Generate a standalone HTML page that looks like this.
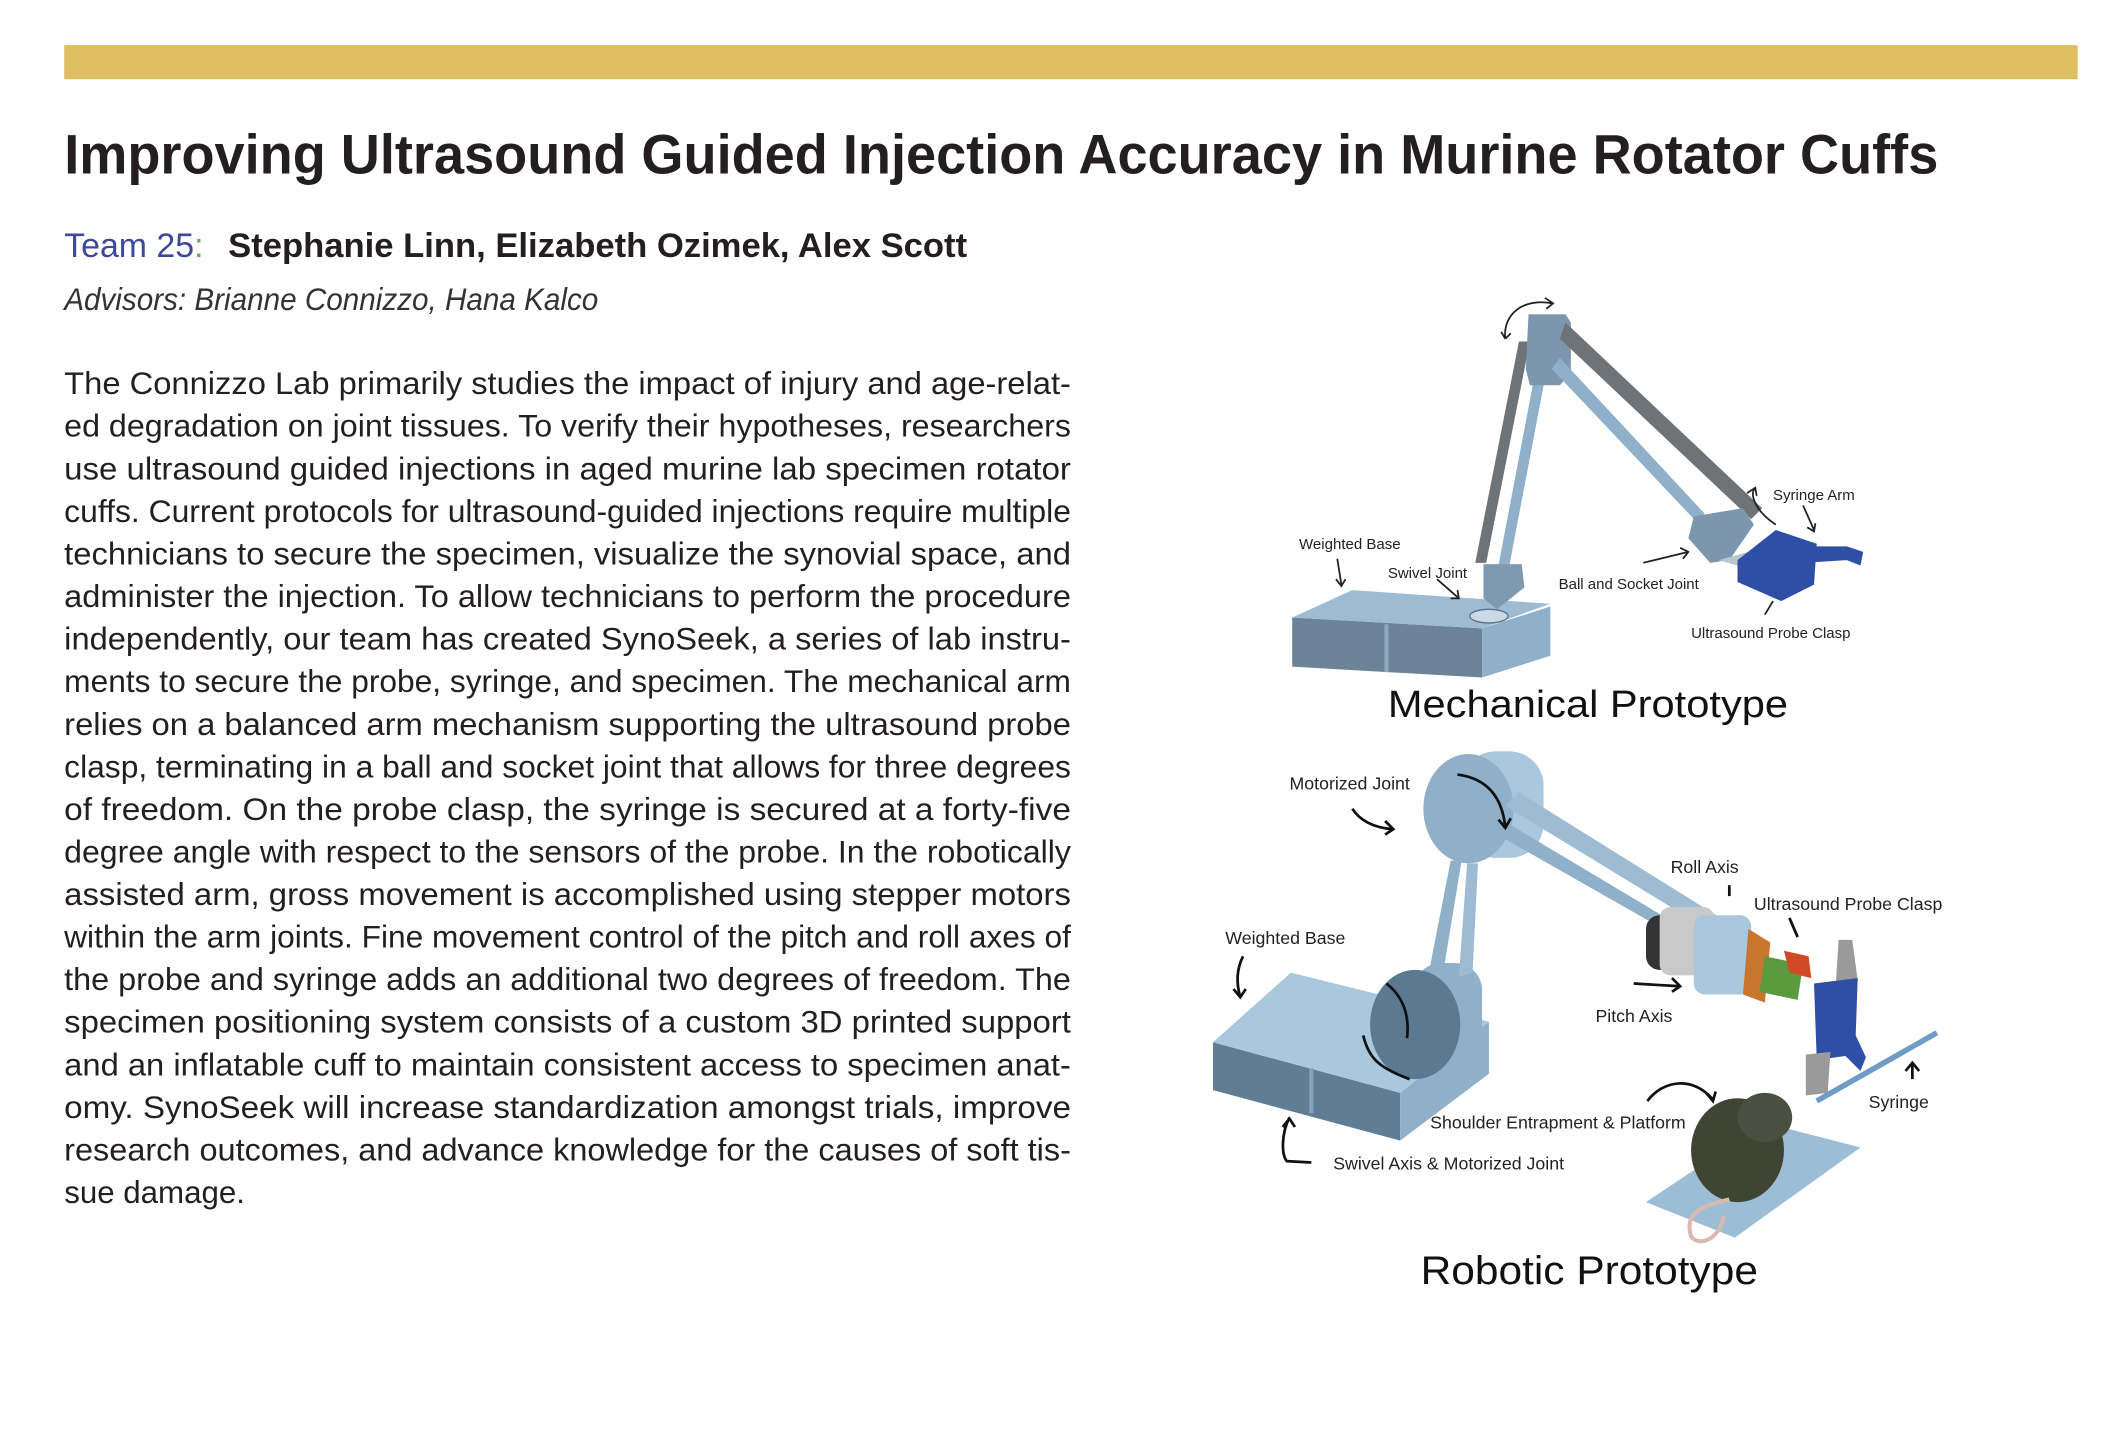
<!DOCTYPE html>
<html><head><meta charset="utf-8"><style>
html,body{margin:0;padding:0;background:#fff;}
svg{display:block;}
</style></head><body>
<svg width="2120" height="1442" viewBox="0 0 1552 1055.6" xmlns="http://www.w3.org/2000/svg" font-family="Liberation Sans, sans-serif">
<rect x="0" y="0" width="1552" height="1056" fill="#fff"/>
<rect x="47" y="33" width="1474" height="25" fill="#dfbe62"/>
<text x="47" y="127" font-size="41" font-weight="bold" fill="#231f20" textLength="1372" lengthAdjust="spacingAndGlyphs">Improving Ultrasound Guided Injection Accuracy in Murine Rotator Cuffs</text>
<text x="47" y="188" font-size="25" fill="#3d4a9c" textLength="102" lengthAdjust="spacingAndGlyphs">Team 25<tspan fill="#6aa84f">:</tspan></text>
<text x="167" y="188" font-size="25" font-weight="bold" fill="#231f20" textLength="541" lengthAdjust="spacingAndGlyphs">Stephanie Linn, Elizabeth Ozimek, Alex Scott</text>
<text x="47" y="227" font-size="23" font-style="italic" fill="#333" textLength="391" lengthAdjust="spacingAndGlyphs">Advisors: Brianne Connizzo, Hana Kalco</text>
<g font-size="22.9" fill="#231f20">
<text x="47" y="288.5" textLength="737" lengthAdjust="spacingAndGlyphs">The Connizzo Lab primarily studies the impact of injury and age-relat-</text>
<text x="47" y="319.7" textLength="737" lengthAdjust="spacingAndGlyphs">ed degradation on joint tissues. To verify their hypotheses, researchers</text>
<text x="47" y="350.9" textLength="737" lengthAdjust="spacingAndGlyphs">use ultrasound guided injections in aged murine lab specimen rotator</text>
<text x="47" y="382.0" textLength="737" lengthAdjust="spacingAndGlyphs">cuffs. Current protocols for ultrasound-guided injections require multiple</text>
<text x="47" y="413.2" textLength="737" lengthAdjust="spacingAndGlyphs">technicians to secure the specimen, visualize the synovial space, and</text>
<text x="47" y="444.4" textLength="737" lengthAdjust="spacingAndGlyphs">administer the injection. To allow technicians to perform the procedure</text>
<text x="47" y="475.5" textLength="737" lengthAdjust="spacingAndGlyphs">independently, our team has created SynoSeek, a series of lab instru-</text>
<text x="47" y="506.7" textLength="737" lengthAdjust="spacingAndGlyphs">ments to secure the probe, syringe, and specimen. The mechanical arm</text>
<text x="47" y="537.9" textLength="737" lengthAdjust="spacingAndGlyphs">relies on a balanced arm mechanism supporting the ultrasound probe</text>
<text x="47" y="569.0" textLength="737" lengthAdjust="spacingAndGlyphs">clasp, terminating in a ball and socket joint that allows for three degrees</text>
<text x="47" y="600.2" textLength="737" lengthAdjust="spacingAndGlyphs">of freedom. On the probe clasp, the syringe is secured at a forty-five</text>
<text x="47" y="631.4" textLength="737" lengthAdjust="spacingAndGlyphs">degree angle with respect to the sensors of the probe. In the robotically</text>
<text x="47" y="662.5" textLength="737" lengthAdjust="spacingAndGlyphs">assisted arm, gross movement is accomplished using stepper motors</text>
<text x="47" y="693.7" textLength="737" lengthAdjust="spacingAndGlyphs">within the arm joints. Fine movement control of the pitch and roll axes of</text>
<text x="47" y="724.9" textLength="737" lengthAdjust="spacingAndGlyphs">the probe and syringe adds an additional two degrees of freedom. The</text>
<text x="47" y="756.0" textLength="737" lengthAdjust="spacingAndGlyphs">specimen positioning system consists of a custom 3D printed support</text>
<text x="47" y="787.2" textLength="737" lengthAdjust="spacingAndGlyphs">and an inflatable cuff to maintain consistent access to specimen anat-</text>
<text x="47" y="818.4" textLength="737" lengthAdjust="spacingAndGlyphs">omy. SynoSeek will increase standardization amongst trials, improve</text>
<text x="47" y="849.5" textLength="737" lengthAdjust="spacingAndGlyphs">research outcomes, and advance knowledge for the causes of soft tis-</text>
<text x="47" y="880.7">sue damage.</text>
</g>

<!-- Mechanical prototype -->
<g>
<polygon points="946,452 946,488 1085,496 1085,460" fill="#6c8398"/>
<polygon points="1085,460 1085,496 1135,480 1135,444" fill="#8fb0c8"/>
<polygon points="946,452 990,432 1135,442 1085,460" fill="#9dbcd3"/>
<line x1="1015" y1="457" x2="1015" y2="492" stroke="#8fa9bd" stroke-width="3"/>
<ellipse cx="1090" cy="451" rx="14" ry="5" fill="#c9d9e6" stroke="#5b7185"/>
<polygon points="1080,412 1112,250 1120,250 1088,412" fill="#6e7378"/>
<polygon points="1092,440 1100,440 1132,272 1124,272" fill="#8fb0c8"/>
<polygon points="1086,413 1114,413 1116,430 1096,446 1086,438" fill="#7f9ab0"/>
<polygon points="1119,230 1146,230 1150,236 1150,272 1142,282 1120,282 1117,270" fill="#7c97ad"/>
<polygon points="1146,236 1290,372 1282,380 1142,248" fill="#6e7378"/>
<polygon points="1142,262 1248,376 1242,382 1136,270" fill="#8fb0c8"/>
<polygon points="1240,378 1276,372 1284,384 1266,410 1252,412 1236,394" fill="#7c97ad"/>
<polygon points="1258,410 1280,404 1272,414" fill="#b8c4ce"/>
<polygon points="1272,410 1300,388 1330,398 1328,428 1304,440 1272,426" fill="#2f4ea6"/>
<polygon points="1318,400 1352,400 1364,404 1362,414 1352,410 1320,412" fill="#2f4ea6"/>
</g>
<g fill="none" stroke="#222" stroke-width="1.3">
<path d="M1102,248 C1100,230 1115,218 1136,222 M1131,218 l6,4 -5,4 M1102,248 l-3,-5 M1102,248 l4,-4"/>
<path d="M979,409 L982,428 M978,424 l4,5 3,-5"/>
<path d="M1052,424 L1068,438 M1062,438 l6,0 -1,-6"/>
<path d="M1203,412 L1236,404 M1230,401 l6,3 -4,5"/>
<path d="M1285,357 C1280,362 1286,375 1300,384 M1279,361 l6,-4 1,6"/>
<path d="M1320,370 L1328,388 M1323,386 l5,3 1,-6"/>
<path d="M1292,450 L1298,440"/>
</g>
<g font-size="11" fill="#222">
<text x="951" y="402">Weighted Base</text>
<text x="1016" y="423">Swivel Joint</text>
<text x="1141" y="431">Ball and Socket Joint</text>
<text x="1298" y="366">Syringe Arm</text>
<text x="1238" y="467">Ultrasound Probe Clasp</text>
</g>
<text x="1016" y="525" font-size="28" fill="#111" textLength="293" lengthAdjust="spacingAndGlyphs">Mechanical Prototype</text>

<!-- Robotic prototype -->
<g>
<polygon points="888,763 888,798 1025,835 1025,800" fill="#5f7d94"/>
<polygon points="1025,800 1025,835 1090,786 1090,748" fill="#8fb0c8"/>
<polygon points="888,763 945,712 1090,748 1025,800" fill="#a9c8de"/>
<line x1="960" y1="782" x2="960" y2="815" stroke="#86a3b9" stroke-width="3"/>
<rect x="1035" y="705" width="50" height="75" rx="20" fill="#8fb0c8"/>
<ellipse cx="1036" cy="750" rx="33" ry="40" fill="#5b7a92"/>
<polygon points="1046,712 1062,630 1070,630 1056,715" fill="#8fb0c8"/>
<polygon points="1068,715 1074,632 1082,632 1078,712" fill="#9dbcd3"/>
<rect x="1070" y="550" width="60" height="78" rx="25" fill="#a9c8de"/>
<ellipse cx="1075" cy="592" rx="33" ry="40" fill="#8fb0c8"/>
<polygon points="1102,590 1112,580 1266,676 1256,684" fill="#9dbcd3"/>
<polygon points="1098,612 1106,604 1250,690 1242,694" fill="#8fb0c8"/>
<rect x="1205" y="670" width="28" height="40" rx="10" fill="#333"/>
<rect x="1215" y="664" width="40" height="50" rx="8" fill="#c9c9c9"/>
<rect x="1240" y="670" width="42" height="58" rx="8" fill="#a9c8de"/>
<polygon points="1280,680 1296,690 1292,734 1276,728" fill="#c8752e"/>
<polygon points="1292,700 1320,706 1316,732 1288,726" fill="#5b9a3f"/>
<polygon points="1306,696 1324,700 1326,716 1310,712" fill="#d04a25"/>
<polygon points="1346,688 1356,688 1360,718 1344,720" fill="#9a9a9a"/>
<polygon points="1328,720 1360,716 1358,772 1330,776" fill="#2f4ea6"/>
<polygon points="1352,744 1366,774 1362,784 1348,770" fill="#2f4ea6"/>
<polygon points="1322,772 1340,770 1338,800 1322,802" fill="#9a9a9a"/>
<line x1="1330" y1="806" x2="1418" y2="756" stroke="#6f9cc4" stroke-width="4"/>
<polygon points="1205,880 1292,822 1362,840 1270,906" fill="#9bbdd5"/>
<ellipse cx="1272" cy="842" rx="34" ry="38" fill="#3f4433"/>
<ellipse cx="1292" cy="818" rx="20" ry="18" fill="#4a5040"/>
<path d="M1266,878 C1250,882 1232,886 1238,905 C1242,912 1258,910 1262,890" fill="none" stroke="#d9b9b2" stroke-width="3"/>
</g>
<g fill="none" stroke="#111" stroke-width="2">
<path d="M990,592 C995,600 1005,606 1020,607 M1014,601 l6,6 -6,4"/>
<path d="M1067,567 C1090,570 1100,585 1102,606 M1097,600 l5,6 4,-7"/>
<path d="M910,700 C905,710 905,720 908,730 M903,724 l5,6 4,-6"/>
<path d="M1015,720 C1028,730 1032,745 1030,760"/>
<path d="M998,758 C1002,775 1010,782 1032,790"/>
<path d="M1266,648 l0,8"/>
<path d="M1310,672 l6,14"/>
<path d="M1196,720 L1230,722 M1224,716 l6,6 -6,4"/>
<path d="M1206,806 C1218,790 1240,788 1254,805 M1249,800 l5,6 2,-7"/>
<path d="M944,818 C938,830 938,845 942,850 L960,851 M939,825 l5,-6 4,6"/>
<path d="M1400,790 l0,-12 M1395,784 l5,-6 5,6"/>
</g>
<g font-size="13" fill="#222">
<text x="944" y="578">Motorized Joint</text>
<text x="1223" y="639">Roll Axis</text>
<text x="1284" y="666">Ultrasound Probe Clasp</text>
<text x="897" y="691">Weighted Base</text>
<text x="1168" y="748">Pitch Axis</text>
<text x="1368" y="811">Syringe</text>
<text x="1047" y="826">Shoulder Entrapment &amp; Platform</text>
<text x="976" y="856">Swivel Axis &amp; Motorized Joint</text>
</g>
<text x="1040" y="940" font-size="29" fill="#111" textLength="247" lengthAdjust="spacingAndGlyphs">Robotic Prototype</text>
</svg>
</body></html>
